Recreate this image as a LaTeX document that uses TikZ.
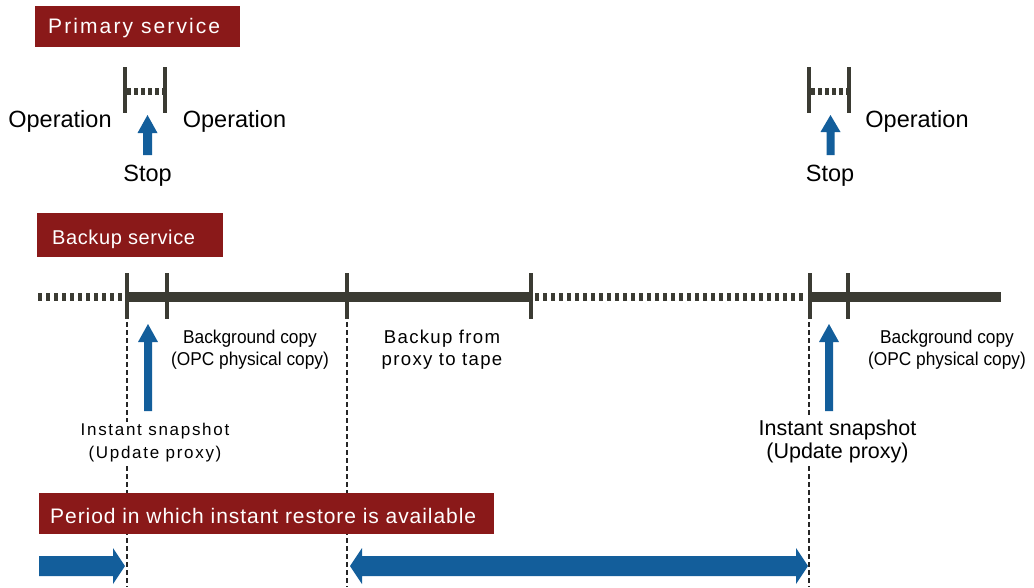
\documentclass[tikz,border=0pt]{standalone}
\usepackage{fontspec}
\setmainfont{Liberation Sans}
\newfontfamily\primfont[LetterSpace=10]{Liberation Sans}
\newfontfamily\backfont[LetterSpace=3]{Liberation Sans}
\newfontfamily\periodfont[LetterSpace=4.5]{Liberation Sans}
\newfontfamily\condfont[FakeStretch=0.93]{Liberation Sans}
\newfontfamily\spacedfont[LetterSpace=7]{Liberation Sans}
\newfontfamily\snapfont[LetterSpace=10]{Liberation Sans}
\definecolor{boxred}{HTML}{8A1919}
\definecolor{lgray}{HTML}{3B3B33}
\definecolor{bblue}{HTML}{135E9B}
\begin{document}
\begin{tikzpicture}[x=1pt,y=-1pt,
  redbox/.style={fill=boxred, draw=none, inner sep=0pt, anchor=north west},
  boxtext/.style={anchor=base west, inner sep=0pt, text=white},
  lbl/.style={anchor=base, inner sep=0pt, font=\fontsize{23.5}{27}\selectfont},
  bar/.style={draw=lgray, line width=4.5pt},
  solidline/.style={draw=lgray, line width=9.5pt},
  dotline/.style={draw=lgray, line width=8.5pt, dash pattern=on 4pt off 4pt},
  pdotline/.style={draw=lgray, line width=7pt, dash pattern=on 4pt off 3pt},
  guide/.style={draw=black!85, line width=1.1pt, dash pattern=on 5pt off 3pt},
  blueshape/.style={fill=bblue, draw=none},
  bglbl/.style={anchor=base, inner sep=0pt, font=\condfont\fontsize{18.6}{22}\selectfont},
  tapelbl/.style={anchor=base, inner sep=0pt, font=\spacedfont\fontsize{18.6}{22}\selectfont},
]
\useasboundingbox (0,0) rectangle (1034,587);
\fill[white] (0,0) rectangle (1034,587);

% ---------- Primary service ----------
\node[redbox, minimum width=205pt, minimum height=41pt] (primbox) at (35,6) {};
\node[boxtext, font=\primfont\fontsize{21}{25}\selectfont] (primtxt) at (48,33) {Primary service};

\coordinate (p1t) at (125,67); \coordinate (p1b) at (125,113);
\coordinate (p2t) at (165,67); \coordinate (p2b) at (165,113);
\draw[pdotline] (127,91.5) -- (163,91.5);
\draw[bar] (p1t) -- (p1b);
\draw[bar] (p2t) -- (p2b);

\coordinate (q1t) at (809,67); \coordinate (q1b) at (809,113);
\coordinate (q2t) at (849,67); \coordinate (q2b) at (849,113);
\draw[pdotline] (811,91.5) -- (847,91.5);
\draw[bar] (q1t) -- (q1b);
\draw[bar] (q2t) -- (q2b);

\node[lbl] (op1) at (60,127) {Operation};
\node[lbl] (op2) at (234.5,127) {Operation};
\node[lbl] (op3) at (917,127) {Operation};
\node[lbl] (stop1) at (147.5,181) {Stop};
\node[lbl] (stop2) at (830,181) {Stop};

% small up arrows (primary)
\fill[blueshape] (147.5,155) ++(-4.5,0) -- ++(0,-22) -- ++(-5.5,0) -- ++(10,-18) -- ++(10,18) -- ++(-5.5,0) -- ++(0,22) -- cycle;
\fill[blueshape] (830.5,155) ++(-4,0) -- ++(0,-23) -- ++(-6,0) -- ++(10,-17) -- ++(10,17) -- ++(-6,0) -- ++(0,23) -- cycle;

% ---------- Backup service ----------
\node[redbox, minimum width=186pt, minimum height=44pt] (backbox) at (37,213) {};
\node[boxtext, font=\backfont\fontsize{20}{24}\selectfont] (backtxt) at (52,244) {Backup service};

\draw[dotline] (38,297) -- (123,297);
\draw[solidline] (126,297) -- (531,297);
\draw[dotline] (535,297) -- (806,297);
\draw[solidline] (809,297) -- (1001,297);
\foreach \x/\n in {127/t1,167/t2,347/t3,531/t4,810/t5,848/t6}{
  \coordinate (\n a) at (\x,273);
  \coordinate (\n b) at (\x,319);
  \draw[bar] (\n a) -- (\n b);
}

% blue period arrows
\fill[blueshape] (39,556) -- (113,556) -- (113,548) -- (125,566) -- (113,584) -- (113,576) -- (39,576) -- cycle;
\fill[blueshape] (350,566) -- (362,548) -- (362,556) -- (796,556) -- (796,548) -- (808,566) -- (796,584) -- (796,576) -- (362,576) -- (362,584) -- cycle;

% guide lines
\coordinate (g1) at (127,322); \coordinate (g1e) at (127,587);
\coordinate (g2) at (347,322); \coordinate (g2e) at (347,587);
\coordinate (g3) at (809,322); \coordinate (g3e) at (809,587);
\draw[guide] (g1) -- (g1e);
\draw[guide] (g2) -- (g2e);
\draw[guide] (g3) -- (g3e);

% up arrows (backup)
\fill[blueshape] (148,411) ++(-4,0) -- ++(0,-69) -- ++(-6,0) -- ++(10,-18) -- ++(10,18) -- ++(-6,0) -- ++(0,69) -- cycle;
\fill[blueshape] (829,411) ++(-4,0) -- ++(0,-69) -- ++(-6,0) -- ++(10,-18) -- ++(10,18) -- ++(-6,0) -- ++(0,69) -- cycle;

% labels
\node[bglbl] (bg1a) at (250,343) {Background copy};
\node[bglbl] (bg1b) at (250,365) {(OPC physical copy)};
\node[tapelbl] (tp1) at (442,343) {Backup from};
\node[tapelbl] (tp2) at (442,365) {proxy to tape};
\node[bglbl] (bg2a) at (947,343) {Background copy};
\node[bglbl] (bg2b) at (947,365) {(OPC physical copy)};

\node[anchor=base, fill=white, inner sep=1pt, align=center,
  font=\snapfont\fontsize{17}{23}\selectfont] (snap1) at (155,458) {Instant snapshot\\(Update proxy)};
\node[anchor=base, fill=white, inner sep=1pt, align=center,
  font=\fontsize{21.5}{23}\selectfont] (snap2) at (837.5,458) {Instant snapshot\\(Update proxy)};

% ---------- Period ----------
\node[redbox, minimum width=455pt, minimum height=41pt] (perbox) at (39,493) {};
\node[boxtext, font=\periodfont\fontsize{21}{25}\selectfont] (pertxt) at (50,523) {Period in which instant restore is available};
\end{tikzpicture}
\end{document}
